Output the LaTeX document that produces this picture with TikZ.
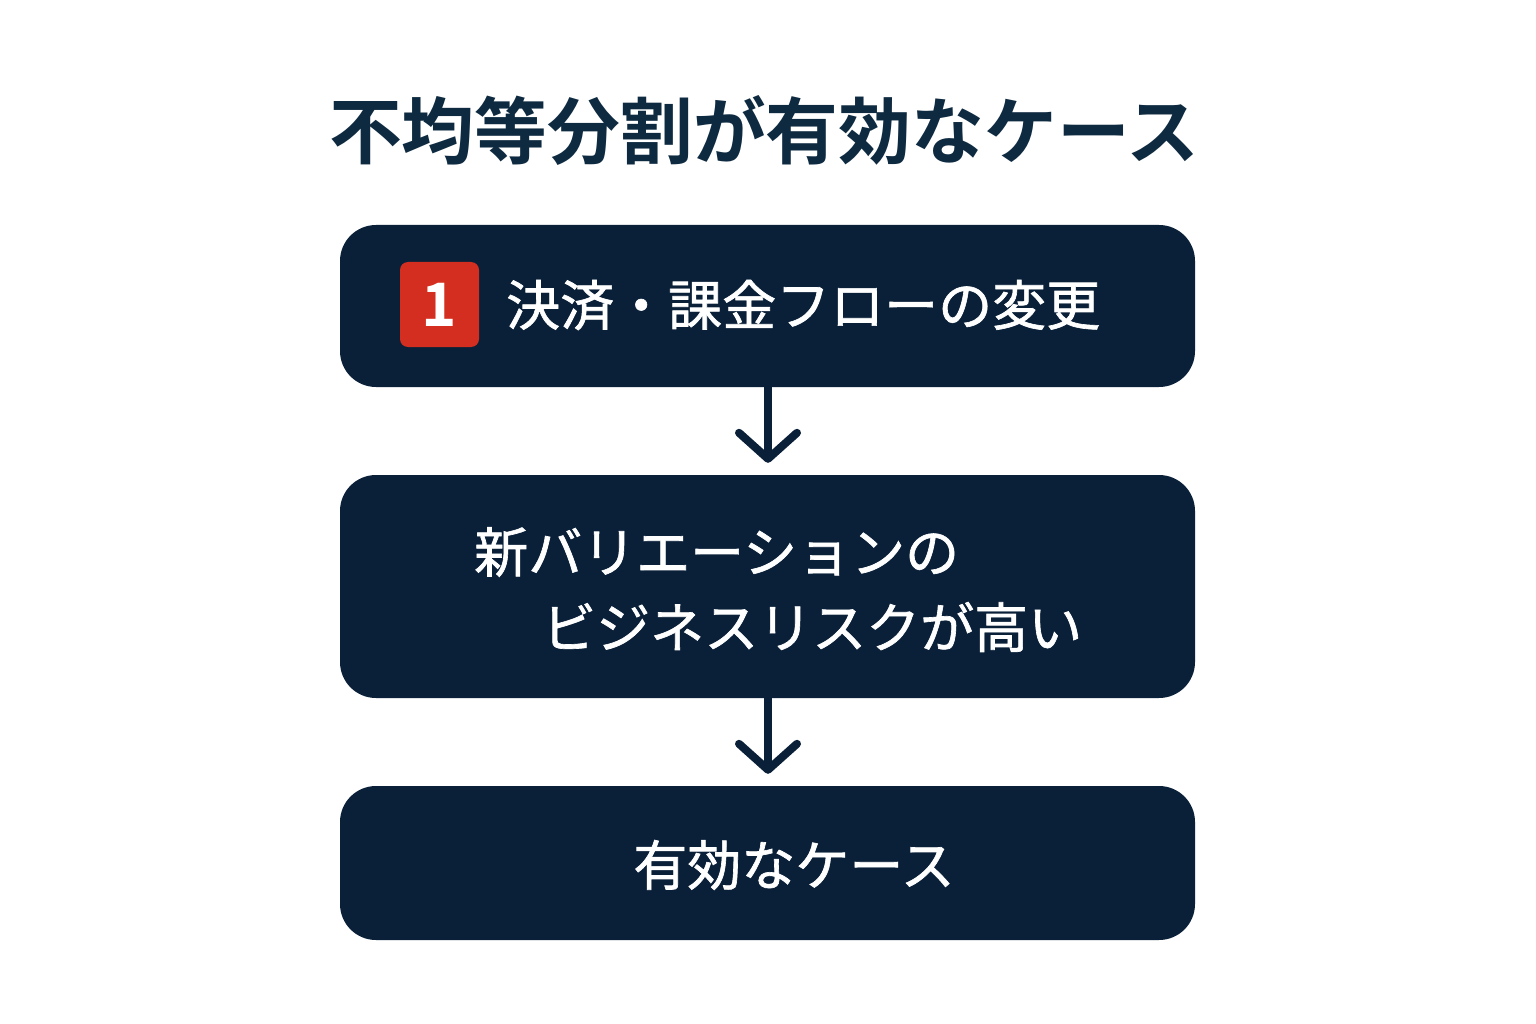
\documentclass[tikz,border=0pt]{standalone}
\usepackage{fontspec}
\setmainfont{Noto Sans CJK JP}[BoldFont={Noto Sans CJK JP Bold}]
\newfontfamily\boxfont{Noto Sans CJK JP}[FakeBold=1.2]
\usetikzlibrary{arrows.meta}
\definecolor{navy}{HTML}{0A2038}
\definecolor{titlenavy}{HTML}{0E2A40}
\definecolor{badgered}{HTML}{D42E20}
\tikzset{
  casebox/.style={fill=navy,rounded corners=36pt,minimum width=855pt,inner sep=0pt},
  boxtext/.style={text=white,font=\boxfont\fontsize{54}{60}\selectfont,inner sep=0pt,anchor=west},
  flowarrow/.style={navy,line width=8pt,line cap=round,line join=round,
    -{Straight Barb[length=26pt,width=58pt,line width=8pt,round]},shorten >=12pt}
}
\begin{document}
\begin{tikzpicture}[x=1pt,y=-1pt]
		\useasboundingbox (0,0) rectangle (1536,1024);
		% Title
		\node[text=titlenavy,font=\bfseries\fontsize{72.8}{76}\selectfont,inner sep=0pt] (title) at (764,130) {不均等分割が有効なケース};
		% Box 1
		\node[casebox,minimum height=162pt] (pay) at (767.5,306) {};
		\node[fill=badgered,rounded corners=8pt,minimum width=79pt,minimum height=85pt,inner sep=0pt,
		  text=white,font=\bfseries\fontsize{60}{60}\selectfont] (one) at (439.5,304.5) {1};
		\node[boxtext] (paytext) at (506,305) {決済・課金フローの変更};
		% Box 2
		\node[casebox,minimum height=223pt] (risk) at (767.5,586.5) {};
		\node[boxtext] (risktop) at (474,552) {新バリエーションの};
		\node[boxtext] (riskbot) at (542,627) {ビジネスリスクが高い};
		% Box 3
		\node[casebox,minimum height=154pt] (valid) at (767.5,863) {};
		\node[boxtext,anchor=center] (validtext) at (794,865) {有効なケース};
		% Arrows
		\draw[flowarrow] (pay.south -| 768,0) -- (risk.north -| 768,0);
		\draw[flowarrow] (risk.south -| 768,0) -- (valid.north -| 768,0);
\end{tikzpicture}
\end{document}
